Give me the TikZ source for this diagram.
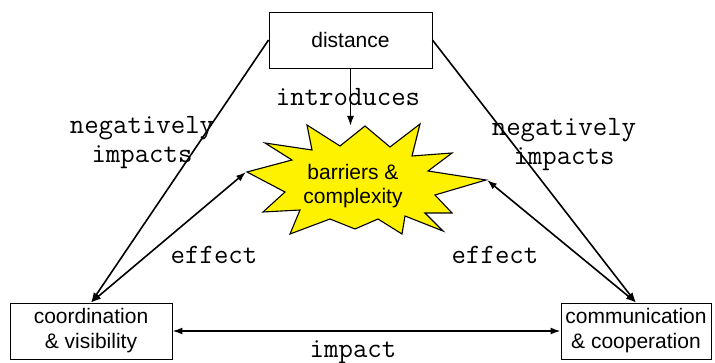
\documentclass[tikz,border=0pt]{standalone}
\usepackage{fontspec}
\setmainfont{Liberation Sans}
\usetikzlibrary{arrows.meta}

\begin{document}
\begin{tikzpicture}[x=1pt, y=-1pt, >={Latex[length=10pt,width=7pt]},
    box node/.style={draw, line width=0.9pt, fill=white, inner sep=0pt, align=center,
      font=\fontsize{21}{25}\selectfont},
    burst fill/.style={draw, line width=1.1pt, line join=miter, fill=yellow},
    word node/.style={align=center, font=\ttfamily\fontsize{28}{29}\selectfont}]

    \useasboundingbox (0,0) rectangle (715,363);

    \node[box node, minimum width=163pt, minimum height=56pt] (dist) at (350.5,40) {distance};
    \node[box node, minimum width=162pt, minimum height=56pt] (coord) at (91,331) {coordination\\\& visibility};
    \node[box node, minimum width=150pt, minimum height=56pt] (comm) at (636,331) {communication\\\& cooperation};

    % the star
    \draw[burst fill] (247,172) -- (292,160) -- (265,143) -- (312,150) -- (307,125)
      -- (340,146) -- (365,126) -- (390,147) -- (420,124) -- (412,156)
      -- (452,153) -- (428,171) -- (486,180) -- (435,195) -- (452,213)
      -- (425,213) -- (443,231) -- (405,216) -- (402,234) -- (378,219)
      -- (355,229) -- (330,219) -- (290,234) -- (300,210) -- (263,212)
      -- (285,192) -- cycle;
    \node[align=center, inner sep=0pt, font=\fontsize{21}{24}\selectfont] (burst) at (353,186) {barriers \&\\complexity};

    \coordinate (burstleft) at (246,172);
    \coordinate (burstright) at (487,180);

    \path[line width=1.6pt]
    (dist.south) edge[->] (dist.south |- 0,126)
    (dist.west) edge[->] (coord.north)
    (dist.east) edge[->] (comm.north)
    (coord.north) edge[<->] (burstleft)
    (comm.north) edge[<->] (burstright)
    (coord.east) edge[<->] (comm.west);

    \node[word node] (intro) at (348,97) {introduces};
    \node[word node] (negleft) at (142,143) {negatively\\impacts};
    \node[word node] (negright) at (564,145) {negatively\\impacts};
    \node[word node] (effleft) at (214,255) {effect};
    \node[word node] (effright) at (495,255) {effect};
    \node[word node] (imp) at (353,352) {impact};
\end{tikzpicture}
\end{document}
